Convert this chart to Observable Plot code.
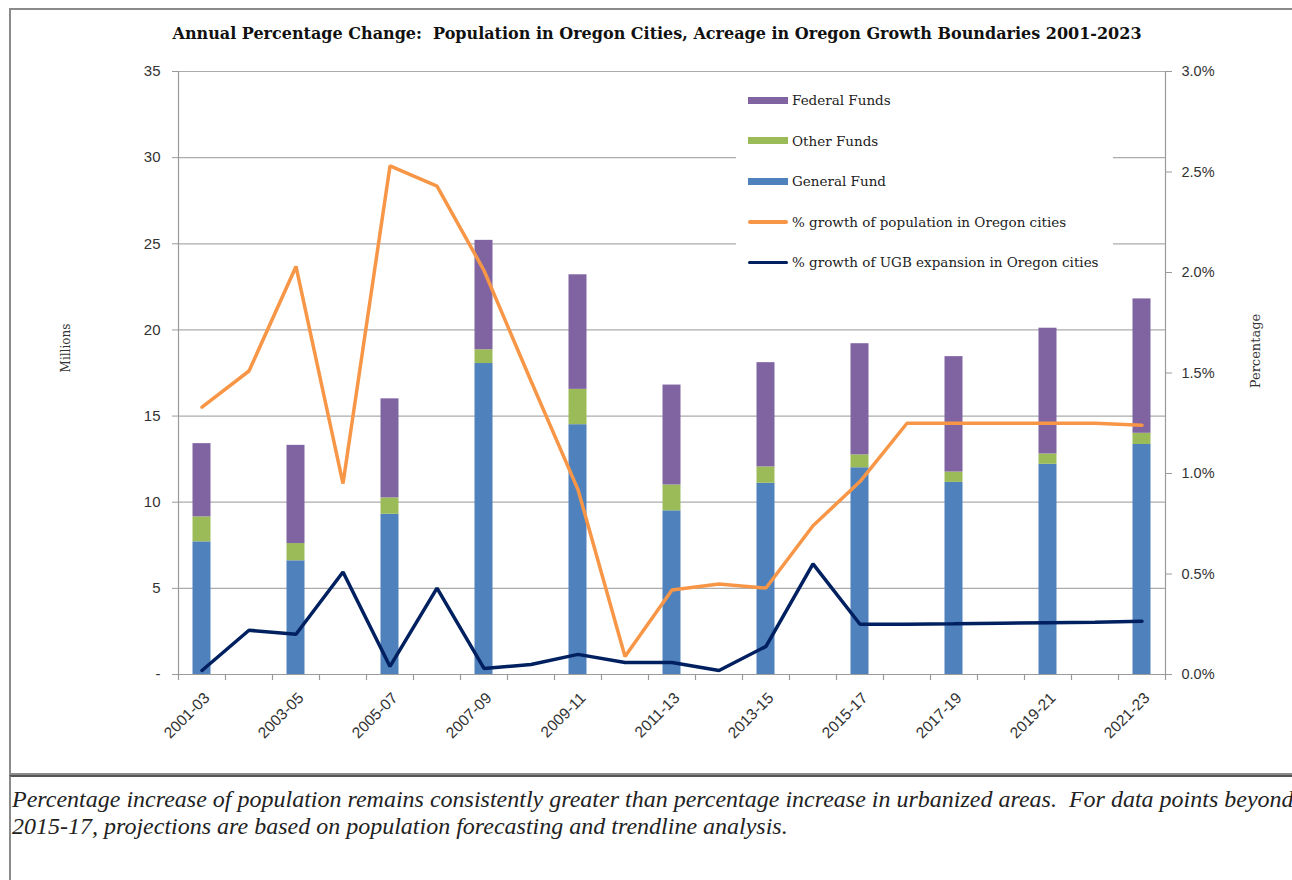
<!DOCTYPE html>
<html><head><meta charset="utf-8">
<script src="https://cdn.jsdelivr.net/npm/d3@7"></script>
<script src="https://cdn.jsdelivr.net/npm/@observablehq/plot@0.6"></script>
<style>
html,body{margin:0;padding:0;background:#fff;}
body{width:1292px;height:880px;overflow:hidden;position:relative;font-family:"DejaVu Serif",serif;color:#222;}
#box{position:absolute;left:9px;top:8px;width:1320px;height:767px;border:2px solid #8a8a8a;border-right:none;box-sizing:border-box;}
#capbox{position:absolute;left:9px;top:775px;width:1320px;height:120px;border-top:2px solid #555;border-left:2px solid #8a8a8a;box-sizing:border-box;}
#title{position:absolute;left:0;width:1314px;top:24px;text-align:center;font-family:"DejaVu Serif",serif;font-weight:bold;font-size:16px;white-space:pre;color:#111;}
#chart{position:absolute;left:0;top:50px;}
#caption{position:absolute;left:12px;top:786px;font-family:"Liberation Serif",serif;font-style:italic;font-size:24px;line-height:27px;white-space:pre;color:#222;}
.ylab{position:absolute;font-family:"DejaVu Serif",serif;font-size:12px;color:#333;transform:translate(-50%,-50%) rotate(-90deg);white-space:nowrap;}
#legend{position:absolute;left:736px;top:80px;width:377px;height:200px;background:#fff;}
.li{position:absolute;left:0;height:20px;font-family:"DejaVu Serif",serif;font-size:13.5px;color:#222;white-space:nowrap;}
.sw{position:absolute;left:12px;width:40px;}
.lt{position:absolute;left:56px;top:0;line-height:20px;}
</style>
</head><body>
<div id="box"></div>
<div id="capbox"></div>
<div id="title"></div>
<div id="chart"></div>
<div id="legend"></div>
<div class="ylab" id="ylabL" style="left:66px;top:348px;"></div>
<div class="ylab" id="ylabR" style="left:1255px;top:351px;font-size:13px;"></div>
<div id="caption"></div>
<script>
// ---- data ----
const titleText = "Annual Percentage Change:  Population in Oregon Cities, Acreage in Oregon Growth Boundaries 2001-2023";
const captionText = "Percentage increase of population remains consistently greater than percentage increase in urbanized areas.  For data points beyond\n2015-17, projections are based on population forecasting and trendline analysis.";
const leftAxisTitle = "Millions";
const rightAxisTitle = "Percentage";

const periods = ["2001-03","2003-05","2005-07","2007-09","2009-11","2011-13","2013-15","2015-17","2017-19","2019-21","2021-23"];
const generalFund  = [7.7, 6.6, 9.3, 18.05, 14.5, 9.5, 11.1, 12.0, 11.15, 12.2, 13.35];
const otherFunds   = [1.45, 1.0, 0.95, 0.8, 2.05, 1.5, 0.95, 0.75, 0.6, 0.6, 0.65];
const federalFunds = [4.25, 5.7, 5.75, 6.35, 6.65, 5.8, 6.05, 6.45, 6.7, 7.3, 7.8];

const years = [2001,2002,2003,2004,2005,2006,2007,2008,2009,2010,2011,2012,2013,2014,2015,2016,2017,2018,2019,2020,2021];
const popGrowth = [1.33,1.51,2.03,0.95,2.53,2.43,2.01,1.46,0.92,0.09,0.42,0.45,0.43,0.74,0.96,1.25,1.25,1.25,1.25,1.25,1.24];
const ugbGrowth = [0.02,0.22,0.20,0.51,0.04,0.43,0.03,0.05,0.10,0.06,0.06,0.02,0.14,0.55,0.25,0.25,0.252,0.255,0.258,0.26,0.265];

const fundNames  = ["General Fund","Other Funds","Federal Funds"];
const fundColors = ["#4F81BD","#9BBB59","#8064A2"];
const lineNames  = ["% growth of population in Oregon cities","% growth of UGB expansion in Oregon cities"];
const lineColors = ["#F79646","#002060"];

const leftTicks = [0,5,10,15,20,25,30,35];
const pctTicks  = [0,0.5,1.0,1.5,2.0,2.5,3.0];
const leftMax = 35, pctMax = 3.0;

// ---- derived tables ----
const barYears = periods.map((p,i) => years[i*2]);
const table = [];
periods.forEach((p,i) => {
  table.push({year: barYears[i], fund: fundNames[0], value: generalFund[i]});
  table.push({year: barYears[i], fund: fundNames[1], value: otherFunds[i]});
  table.push({year: barYears[i], fund: fundNames[2], value: federalFunds[i]});
});
const k = leftMax / pctMax;
const popData = years.map((y,i) => ({year: y, v: popGrowth[i]*k}));
const ugbData = years.map((y,i) => ({year: y, v: ugbGrowth[i]*k}));

const W = 1292, H = 710, mL = 178, mR = 127, mT = 21, mB = 86;
const step = (W - mL - mR) / years.length;

document.getElementById("title").textContent = titleText;
document.getElementById("caption").textContent = captionText;
document.getElementById("ylabL").textContent = leftAxisTitle;
document.getElementById("ylabR").textContent = rightAxisTitle;

const chart = Plot.plot({
  width: W, height: H, marginTop: mT, marginBottom: mB, marginLeft: mL, marginRight: mR,
  style: {fontFamily: "'Liberation Sans', Arial, sans-serif", fontSize: "14px", color: "#333", background: "transparent"},
  x: {type: "band", domain: years, paddingInner: 0.617, paddingOuter: 0.3085, align: 0.5, round: false, axis: null},
  y: {domain: [0, leftMax], axis: null},
  color: {domain: fundNames, range: fundColors},
  marks: [
    Plot.ruleY(leftTicks.filter(v => v > 0), {stroke: "#ababab", strokeWidth: 1.2}),
    Plot.barY(table, {x: "year", y: "value", fill: "fund", order: fundNames}),
    Plot.line(popData, {x: "year", y: "v", stroke: lineColors[0], strokeWidth: 3.5, strokeLinejoin: "miter"}),
    Plot.line(ugbData, {x: "year", y: "v", stroke: lineColors[1], strokeWidth: 3.5, strokeLinejoin: "miter"}),
    Plot.ruleY([0], {stroke: "#9a9a9a", strokeWidth: 1.2}),
    Plot.ruleX([years[0]], {x: d => d, dx: -step/2, stroke: "#9a9a9a", strokeWidth: 1.2}),
    Plot.ruleX([years[years.length-1]], {x: d => d, dx: step/2, stroke: "#9a9a9a", strokeWidth: 1.2}),
    Plot.ruleX(years, {x: d => d, dx: -step/2, y1: 0, y2: 0, insetBottom: -6, stroke: "#9a9a9a", strokeWidth: 1.2}),
    Plot.ruleX([years[years.length-1]], {x: d => d, dx: step/2, y1: 0, y2: 0, insetBottom: -6, stroke: "#9a9a9a", strokeWidth: 1.2}),
    Plot.axisY(leftTicks, {anchor: "left", tickSize: 6, tickPadding: 12, stroke: "#9a9a9a", fill: "#333", fontSize: 15, tickFormat: v => v === 0 ? "-" : String(v), label: null}),
    Plot.axisY(pctTicks.map(p => p*k), {anchor: "right", tickSize: 6, tickPadding: 10, stroke: "#9a9a9a", fill: "#333", fontSize: 14.5, tickFormat: v => (v/k).toFixed(1) + "%", label: null}),
    Plot.axisX(barYears, {tickSize: 0, tickPadding: 10, tickRotate: -45, dx: 5, dy: 11, fill: "#333", fontSize: 15.5, tickFormat: y => periods[barYears.indexOf(y)], label: null})
  ]
});
document.getElementById("chart").appendChild(chart);

// ---- legend ----
const legend = document.getElementById("legend");
const items = [
  {name: fundNames[2], color: fundColors[2], type: "rect"},
  {name: fundNames[1], color: fundColors[1], type: "rect"},
  {name: fundNames[0], color: fundColors[0], type: "rect"},
  {name: lineNames[0], color: lineColors[0], type: "line"},
  {name: lineNames[1], color: lineColors[1], type: "line"}
];
items.forEach((it, i) => {
  const row = document.createElement("div");
  row.className = "li";
  row.style.top = (10 + i*40.5) + "px";
  const sw = document.createElement("div");
  sw.className = "sw";
  sw.style.background = it.color;
  if (it.type === "rect") { sw.style.height = "7px"; sw.style.top = "6.5px"; }
  else { sw.style.height = "3.5px"; sw.style.top = "8.5px"; sw.style.borderRadius = "2px"; }
  const t = document.createElement("div");
  t.className = "lt";
  t.textContent = it.name;
  row.appendChild(sw); row.appendChild(t);
  legend.appendChild(row);
});
</script>
</body></html>
